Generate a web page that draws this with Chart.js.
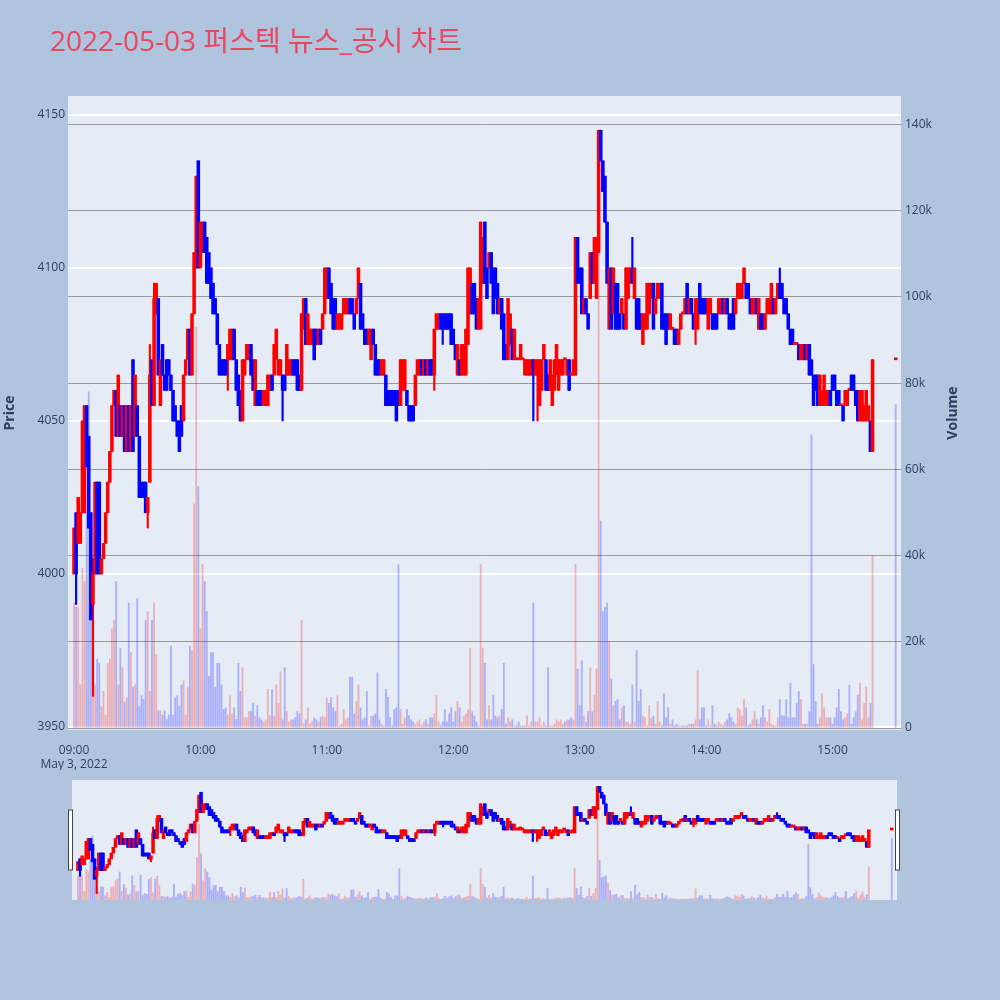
<!DOCTYPE html>
<html>
<head>
<meta charset="utf-8">
<script src="https://cdn.jsdelivr.net/npm/chart.js@4.4.0/dist/chart.umd.min.js"></script>
<style>
  html, body { margin: 0; padding: 0; background: #b0c4de; }
  #wrap { position: relative; width: 1000px; height: 1000px; }
  #main { position: absolute; left: 0; top: 0; }
  #nav { position: absolute; left: 0; top: 770px; }
</style>
</head>
<body>
<div id="wrap">
  <canvas id="main" width="1000" height="770"></canvas>
  <canvas id="nav" width="1000" height="140"></canvas>
</div>
<script>
const chartTitle = '2022-05-03 퍼스텍 뉴스_공시 차트';

// one-minute candles from 09:00 (minute 0) to 15:19, then the 15:30 closing auction
const opens = [
  4000,4020,4010,4010,4020,4020,4055,4045,4020,3990, 4000,4030,4030,4000,4005,4010,4020,4030,4040,4055,
  4060,4045,4055,4045,4055,4040,4055,4040,4070,4045, 4055,4045,4030,4030,4030,4020,4030,4070,4055,4085,
  4090,4055,4075,4065,4070,4070,4065,4060,4055,4050, 4050,4055,4050,4065,4070,4080,4065,4085,4100,4135,
  4100,4105,4115,4110,4105,4100,4095,4090,4085,4075, 4070,4070,4070,4070,4070,4070,4080,4070,4065,4060,
  4050,4065,4070,4070,4075,4070,4055,4060,4060,4060, 4055,4055,4055,4060,4065,4065,4070,4065,4065,4065,
  4065,4065,4065,4065,4070,4070,4070,4065,4060,4080, 4090,4075,4075,4075,4080,4080,4075,4080,4080,4085,
  4090,4100,4095,4090,4090,4080,4080,4080,4085,4085, 4085,4090,4090,4085,4085,4090,4095,4085,4080,4080,
  4075,4070,4080,4075,4070,4070,4065,4065,4065,4060, 4060,4060,4060,4060,4060,4055,4060,4060,4060,4055,
  4055,4055,4055,4065,4065,4070,4065,4070,4065,4070, 4070,4065,4080,4080,4085,4085,4085,4085,4085,4085,
  4080,4075,4065,4070,4065,4065,4065,4075,4085,4095, 4095,4090,4080,4080,4095,4115,4100,4100,4105,4100,
  4100,4095,4085,4090,4085,4075,4070,4075,4080,4070, 4070,4070,4070,4070,4065,4065,4065,4065,4070,4065,
  4065,4055,4060,4070,4070,4065,4060,4055,4060,4065, 4060,4065,4065,4070,4065,4070,4065,4065,4065,4110,
  4100,4100,4085,4090,4085,4090,4105,4095,4090,4105, 4145,4135,4130,4115,4080,4100,4085,4095,4095,4085,
  4085,4085,4080,4090,4095,4100,4090,4090,4090,4085, 4075,4080,4080,4085,4090,4095,4085,4090,4090,4095,
  4085,4085,4085,4080,4080,4080,4080,4075,4080,4085, 4085,4095,4085,4090,4085,4080,4080,4095,4090,4090,
  4090,4080,4085,4085,4085,4085,4085,4085,4090,4085, 4090,4085,4085,4090,4085,4090,4090,4090,4095,4095,
  4095,4090,4085,4085,4090,4080,4085,4085,4080,4085, 4085,4085,4090,4085,4090,4095,4095,4090,4090,4085,
  4080,4080,4075,4075,4075,4070,4070,4075,4070,4075, 4070,4065,4065,4065,4055,4055,4055,4055,4055,4060,
  4065,4065,4060,4060,4055,4055,4055,4055,4060,4065, 4065,4060,4060,4050,4050,4050,4050,4050,4050,4040,
  4070
];
const closes = [
  4015,4000,4025,4020,4050,4055,4035,4015,3985,4000, 4030,4000,4000,4005,4010,4020,4030,4040,4055,4060,
  4045,4065,4045,4055,4040,4055,4040,4055,4040,4065, 4045,4025,4025,4025,4020,4025,4065,4055,4090,4095,
  4065,4070,4065,4060,4060,4065,4060,4050,4050,4045, 4040,4045,4065,4070,4080,4065,4085,4105,4130,4100,
  4115,4115,4105,4095,4095,4090,4085,4085,4075,4065, 4065,4065,4065,4075,4080,4080,4070,4060,4055,4050,
  4070,4070,4075,4075,4065,4060,4070,4055,4055,4055, 4060,4060,4065,4065,4060,4075,4080,4070,4070,4060,
  4060,4075,4070,4070,4065,4065,4060,4060,4085,4090, 4075,4085,4080,4080,4070,4075,4080,4075,4085,4100,
  4100,4090,4085,4080,4080,4085,4085,4085,4090,4090, 4090,4085,4085,4080,4090,4100,4080,4080,4075,4075,
  4080,4080,4075,4065,4065,4065,4070,4070,4055,4055, 4055,4055,4055,4050,4055,4070,4070,4070,4055,4050,
  4050,4050,4065,4070,4070,4065,4070,4065,4070,4065, 4065,4080,4085,4085,4080,4080,4080,4080,4080,4075,
  4075,4070,4075,4065,4075,4075,4080,4100,4100,4085, 4085,4080,4090,4115,4110,4095,4090,4105,4095,4085,
  4090,4085,4090,4080,4070,4070,4090,4085,4070,4080, 4070,4070,4075,4070,4070,4070,4070,4070,4065,4070,
  4070,4070,4070,4075,4060,4060,4070,4065,4070,4075, 4070,4070,4070,4070,4070,4060,4065,4070,4110,4095,
  4095,4085,4090,4085,4080,4105,4095,4110,4110,4145, 4135,4125,4115,4095,4100,4080,4100,4080,4080,4080,
  4090,4080,4100,4100,4100,4095,4100,4080,4080,4080, 4085,4085,4095,4095,4095,4080,4090,4095,4095,4080,
  4080,4075,4080,4085,4080,4075,4075,4080,4085,4085, 4090,4085,4090,4085,4080,4090,4090,4085,4085,4085,
  4085,4090,4090,4080,4080,4080,4090,4090,4085,4090, 4085,4080,4080,4080,4090,4095,4095,4095,4100,4090,
  4090,4085,4090,4090,4085,4090,4080,4080,4085,4090, 4090,4095,4085,4090,4095,4090,4090,4085,4085,4080,
  4075,4075,4075,4075,4070,4075,4075,4070,4075,4065, 4065,4055,4060,4055,4065,4060,4065,4060,4060,4055,
  4060,4060,4055,4055,4055,4050,4060,4060,4060,4060, 4060,4055,4050,4060,4060,4055,4060,4055,4040,4070,
  4070
];
// [candle index, low, high] where the wick reaches past the body
const wicks = [
  [1, 3990, 4020], [9, 3960, 4005], [35, 4015, 4025], [36, 4030, 4075], [38, 4055, 4095],
  [73, 4060, 4075], [99, 4050, 4065], [171, 4060, 4080], [175, 4075, 4085], [218, 4050, 4070],
  [220, 4050, 4070], [265, 4095, 4110], [295, 4075, 4090], [335, 4090, 4100]
];
const volumes = [
  29000,28000,28000,10000,37000,34000,50000,78000,26000,32000, 10000,16000,15000,5000,8500,3000,15000,16000,23000,25000,
  34000,10000,18500,14000,6000,7000,29000,17500,9500,10000, 30000,5000,7500,6600,25000,27000,8500,25000,29000,17000,
  4000,4000,3000,4000,2000,3000,19000,3000,7000,7500, 5000,10000,11000,3000,9500,19000,18000,52000,93000,56000,
  23000,38000,34000,27000,12000,17500,17500,9500,15000,15000, 10000,4300,4700,3000,7500,3300,4700,2000,15000,8500,
  14000,2400,2400,3800,3800,5700,2800,5200,2400,1900, 1400,1900,9000,2800,9000,2800,10000,5700,13000,1900,
  14000,3800,1400,1900,1900,2400,3800,3300,25000,1000, 1900,4700,1000,1400,2400,1900,1400,2400,2800,2400,
  7000,5700,7000,4700,3800,7500,500,900,4300,1900, 2400,11800,11800,3300,6200,10000,4700,1900,2400,8500,
  500,2800,2800,3300,12800,1900,900,500,9000,7100, 2400,500,4300,4700,37900,4300,900,2400,4300,2800,
  1900,1400,900,1400,1900,500,1400,1900,900,2400, 2400,3300,7600,1400,500,1400,4300,1400,3300,4700,
  1400,3800,6200,4700,1400,2800,3300,4300,18500,3800, 2800,1400,500,38000,18500,15000,1900,5200,1900,7600,
  2800,2400,2800,4300,15000,900,2400,1400,1900,500, 500,1400,500,500,500,2800,500,1400,29000,1400,
  1400,2400,500,1400,500,14000,500,500,900,1900, 1400,1900,900,1400,1900,1900,2400,1900,38000,13700,
  5200,15600,2800,1400,3800,14000,3800,7600,13700,138000, 48000,27000,28000,29000,20000,11400,5200,6200,6600,1900,
  4700,5200,1400,1400,900,10000,1400,18000,6200,9000, 2800,2400,500,5200,2400,2800,900,6200,1400,500,
  8000,2400,4700,900,1900,500,900,500,500,500, 500,500,900,900,900,1900,13300,1900,4700,4700,
  500,1900,500,5200,900,500,1400,900,500,1400, 1900,3300,2400,1400,900,4700,4300,2800,6600,4700,
  500,900,1900,3800,1900,900,2400,5200,2400,1400, 4300,900,500,500,2400,6600,2800,2800,6600,2400,
  10400,2400,2400,5700,8500,6600,900,900,900,3800, 68000,14700,6200,900,2400,8000,4700,2400,2400,2400,
  900,2400,4700,9000,3800,1900,2400,3300,10000,900, 2400,3800,7600,10400,1900,5700,9500,2400,5700,40000,
  75000
];
const closingAuctionMinute = 390;
const priceTicks = [3950, 4000, 4050, 4100, 4150];
const volumeTicks = [0, 20000, 40000, 60000, 80000, 100000, 120000, 140000];
const timeTicks = [0, 60, 120, 180, 240, 300, 360];
const timeLabels = [['09:00', 'May 3, 2022'], '10:00', '11:00', '12:00', '13:00', '14:00', '15:00'];

const minutes = opens.map((_, i) => i < opens.length - 1 ? i : closingAuctionMinute);
const candleColor = opens.map((o, i) => closes[i] >= o ? '#ff0000' : '#0000ff');
const volumeColor = opens.map((o, i) => closes[i] > o ? 'rgba(255,0,0,0.25)' : 'rgba(0,0,255,0.25)');

const bodyData = minutes.map((m, i) => ({ x: m, y: [opens[i], closes[i]] }));
const wickData = minutes.map((m, i) => {
  const w = wicks.find(w => w[0] === i);
  return { x: m, y: w ? [w[1], w[2]] : [Math.min(opens[i], closes[i]), Math.max(opens[i], closes[i])] };
});
const volumeData = minutes.map((m, i) => ({ x: m, y: volumes[i] }));

Chart.defaults.font.family = '"Open Sans", "Noto Sans CJK KR", sans-serif';
Chart.defaults.font.size = 12;
Chart.defaults.color = '#2a3f5f';

const plotBg = {
  id: 'plotBg',
  beforeDraw(chart) {
    const { ctx, chartArea: a } = chart;
    ctx.save();
    ctx.fillStyle = '#e5ecf6';
    ctx.fillRect(a.left, a.top, a.right - a.left, a.bottom - a.top);
    ctx.restore();
  }
};

const mainText = {
  id: 'mainText',
  afterDraw(chart) {
    const { ctx, chartArea: a } = chart;
    ctx.save();
    ctx.fillStyle = '#e8475f';
    ctx.font = '28px "Open Sans", "Noto Sans CJK KR", sans-serif';
    ctx.textBaseline = 'alphabetic';
    ctx.fillText(chartTitle, 50, 51);
    // right axis title reads bottom-to-top like the left one
    ctx.fillStyle = '#2a3f5f';
    ctx.font = 'bold 14px "Open Sans", sans-serif';
    ctx.translate(953, (a.top + a.bottom) / 2);
    ctx.rotate(-Math.PI / 2);
    ctx.textAlign = 'center';
    ctx.textBaseline = 'middle';
    ctx.fillText('Volume', 0, 0);
    ctx.restore();
  }
};

const navHandles = {
  id: 'navHandles',
  afterDraw(chart) {
    const { ctx, chartArea: a } = chart;
    ctx.save();
    ctx.fillStyle = '#ffffff';
    ctx.strokeStyle = '#444444';
    ctx.lineWidth = 1;
    [a.left - 3.5, a.right - 1.5].forEach(x => {
      ctx.fillRect(x, a.top + 30, 4, 60);
      ctx.strokeRect(x, a.top + 30, 4, 60);
    });
    ctx.restore();
  }
};

function makeDatasets() {
  return [
    { label: 'Volume', data: volumeData, yAxisID: 'y2', backgroundColor: volumeColor,
      barThickness: 1.2, grouped: false, order: 3 },
    { label: 'Wick', data: wickData, yAxisID: 'y', backgroundColor: candleColor,
      barThickness: 1.5, grouped: false, order: 2 },
    { label: 'Price', data: bodyData, yAxisID: 'y', backgroundColor: candleColor,
      barThickness: 2.9, minBarLength: 2, grouped: false, order: 1 }
  ];
}

const xRange = { min: -2.85, max: 392.5 };
const priceRange = { min: 3949, max: 4156.2 };
const volumeRange = { min: -460, max: 146600 };

new Chart(document.getElementById('main'), {
  type: 'bar',
  data: { datasets: makeDatasets() },
  options: {
    responsive: false,
    animation: false,
    devicePixelRatio: 1,
    layout: { padding: { top: 96, left: 0, right: 0, bottom: 0 } },
    plugins: { legend: { display: false }, tooltip: { enabled: false } },
    scales: {
      x: {
        type: 'linear', ...xRange, offset: false,
        grid: { display: false }, border: { display: false },
        afterBuildTicks: s => { s.ticks = timeTicks.map(v => ({ value: v })); },
        ticks: { autoSkip: false, maxRotation: 0, padding: 5, callback: (v, i) => timeLabels[i] },
        afterFit: s => { s.height = 40; }
      },
      y: {
        type: 'linear', position: 'left', ...priceRange,
        grid: { color: '#ffffff', lineWidth: 2, drawTicks: false }, border: { display: false },
        afterBuildTicks: s => { s.ticks = priceTicks.map(v => ({ value: v })); },
        ticks: { padding: 3, callback: v => String(v) },
        title: { display: true, text: 'Price', font: { size: 14, weight: 'bold' }, padding: { top: 2, bottom: 0 } },
        afterFit: s => { s.width = 68; }
      },
      y2: {
        type: 'linear', position: 'right', ...volumeRange,
        grid: { color: '#999999', lineWidth: 1, drawTicks: false }, border: { display: false },
        afterBuildTicks: s => { s.ticks = volumeTicks.map(v => ({ value: v })); },
        ticks: { padding: 4, callback: v => v === 0 ? '0' : (v / 1000) + 'k' },
        afterFit: s => { s.width = 99; }
      }
    }
  },
  plugins: [plotBg, mainText]
});

new Chart(document.getElementById('nav'), {
  type: 'bar',
  data: { datasets: makeDatasets() },
  options: {
    responsive: false,
    animation: false,
    devicePixelRatio: 1,
    layout: { padding: { top: 10, left: 72, right: 103, bottom: 10 } },
    plugins: { legend: { display: false }, tooltip: { enabled: false } },
    scales: {
      x: { type: 'linear', ...xRange, offset: false, display: false },
      y: { type: 'linear', ...priceRange, display: false },
      y2: { type: 'linear', ...volumeRange, display: false }
    }
  },
  plugins: [plotBg, navHandles]
});
</script>
</body>
</html>
